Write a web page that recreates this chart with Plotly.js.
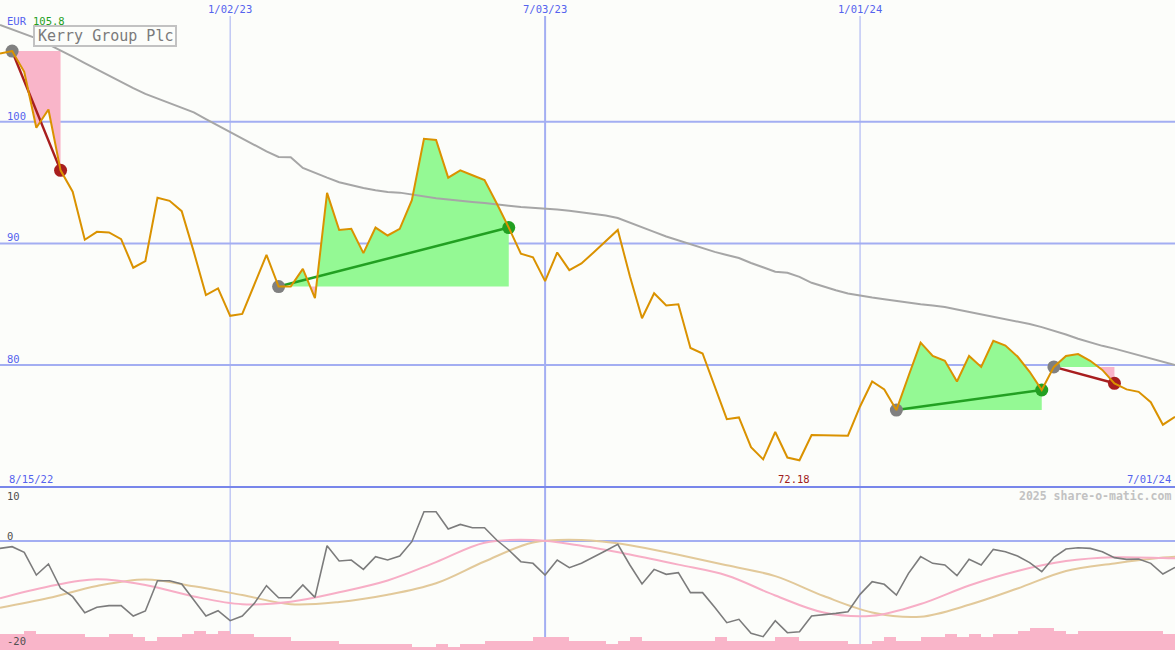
<!DOCTYPE html>
<html><head><meta charset="utf-8">
<script src="https://cdn.plot.ly/plotly-3.0.1.min.js"></script>
<style>html,body{margin:0;padding:0;background:#fcfdfa;}#chart{width:1175px;height:650px;}</style>
</head><body><div id="chart"></div>
<script>
// ---------- DATA (weekly, Mondays from 2022-08-22) ----------
const startDate = '2022-08-22';
const title = 'Kerry Group Plc';
const currency = 'EUR';
const maxLabel = '105.8';
const minLabel = '72.18';
const firstDateLabel = '8/15/22';
const lastDateLabel = '7/01/24';
const watermark = '2025 share-o-matic.com';

const price = [105.6,105.8,104.1,99.5,101.0,96.0,94.25,90.3,90.95,90.9,
  90.35,88.0,88.55,93.75,93.5,92.65,89.3,85.75,86.3,84.05,
  84.2,86.6,89.05,86.45,86.45,87.9,85.5,94.15,91.1,91.2,
  89.2,91.3,90.65,91.2,93.55,98.6,98.5,95.4,96.0,95.6,
  95.2,93.3,91.3,89.15,88.85,86.9,89.25,87.8,88.35,89.25,
  90.2,91.1,87.3,83.85,85.9,84.9,85.0,81.4,80.95,78.2,
  75.55,75.7,73.25,72.25,74.5,72.4,72.18,74.25,74.25,74.25,
  74.2,76.6,78.65,78.0,76.3,79.1,81.85,80.75,80.35,78.65,
  80.75,79.85,82.0,81.6,80.7,79.45,77.95,79.85,80.75,80.9,
  80.35,79.6,78.5,78.0,77.8,76.95,75.1,75.75];

const movingAvg = [107.95,107.59,107.24,106.85,106.35,105.87,105.34,104.82,104.3,103.77,
  103.26,102.76,102.28,101.9,101.53,101.15,100.76,100.22,99.69,99.15,
  98.62,98.09,97.56,97.1,97.07,96.2,95.78,95.4,95.03,94.77,
  94.55,94.37,94.22,94.17,94.0,93.83,93.71,93.6,93.48,93.4,
  93.32,93.23,93.1,92.98,92.93,92.89,92.79,92.68,92.56,92.44,
  92.29,92.09,91.73,91.31,90.95,90.57,90.25,89.94,89.61,89.3,
  89.04,88.8,88.39,88.0,87.67,87.58,87.25,86.76,86.43,86.15,
  85.88,85.7,85.55,85.41,85.26,85.12,85.0,84.89,84.77,84.57,
  84.37,84.18,84.0,83.82,83.62,83.37,83.12,82.84,82.51,82.16,
  81.85,81.58,81.35,81.08,80.81,80.55,80.28,80.01];

const osc = [-1.4,-1.08,-2.16,-6.48,-4.38,-9.0,-10.6,-13.65,-12.63,-12.3,
  -12.3,-14.29,-13.33,-7.56,-7.56,-8.19,-11.24,-14.29,-13.27,-15.18,
  -14.29,-11.87,-8.5,-10.8,-10.8,-8.38,-10.73,-0.9,-3.81,-3.62,
  -5.4,-2.98,-3.62,-2.86,-0.13,5.58,5.58,2.29,3.17,2.54,
  2.54,0.19,-1.71,-3.94,-4.25,-6.48,-3.62,-5.08,-4.25,-2.98,
  -1.84,-0.63,-4.57,-8.19,-5.4,-6.35,-6.03,-9.84,-9.84,-12.63,
  -15.56,-14.92,-17.59,-18.22,-15.18,-17.46,-17.27,-14.29,-14.1,-13.78,
  -13.46,-10.16,-7.75,-8.25,-10.29,-6.16,-2.98,-4.25,-4.57,-6.6,
  -3.49,-4.57,-1.59,-2.03,-2.86,-4.12,-5.84,-3.11,-1.52,-1.27,
  -1.4,-2.03,-3.17,-3.49,-3.43,-4.25,-6.29,-5.02];

// smooth signal lines, read every 4th week (plus the last week)
const oscPinkWeeks = [0,4,8,12,16,20,24,28,32,36,40,44,48,52,56,60,64,68,72,76,80,84,88,92,96,97];
const oscPink = [-10.91,-8.67,-7.3,-8.38,-10.57,-12.04,-11.56,-9.77,-7.52,-4.02,
  -0.33,0.19,-0.9,-2.57,-4.5,-6.57,-10.38,-13.62,-14.25,-12.0,
  -8.46,-5.7,-3.81,-3.09,-3.24,-3.3];
const oscTan = [-12.7,-10.86,-8.57,-7.33,-8.61,-10.29,-12.04,-11.62,-10.25,-8.05,
  -3.9,-0.29,0.19,-0.8,-2.63,-4.63,-6.69,-10.48,-13.6,-14.42,
  -12.15,-9.05,-5.7,-4.27,-3.16,-2.99];

const volume = [5,5,6,5,5,5,5,4,4,5,
  5,4,3,4,4,5,6,5,6,5,
  5,4,4,4,3,3,3,3,2,2,
  2,2,2,2,1,1,2,1,2,2,
  3,3,3,3,4,4,4,3,3,3,
  2,3,4,3,3,3,3,3,3,4,
  3,3,3,3,4,4,3,3,3,3,
  2,2,3,4,3,3,4,4,5,4,
  5,4,5,5,6,7,7,6,5,6,
  6,6,6,6,6,6,5,5];

// signal periods: [start week, end week]
const signalStart = [1,23,74,87];
const signalEnd   = [5,42,86,92];

const gridDates  = ['2023-01-02','2023-07-03','2024-01-01'];
const gridLabels = ['1/02/23','7/03/23','1/01/24'];
const priceTicks = [100,90,80];
const oscTicks   = [10,0,-20];

// ---------- BUILD ----------
const W = 1175, H = 650;
const BG = '#fcfdfa';
const GRID = '#a3aef2';
const MONO = 'DejaVu Sans Mono, Liberation Mono, monospace';
const GREEN = '#22a022', RED = '#a81e1e', GRAY = '#808080';
const FILLG = '#94f994', FILLP = '#f9b5c9';

const WEEK = 7*864e5;
const t0 = Date.parse(startDate + 'T00:00:00Z');
function fmt(ms){const d=new Date(ms);const p=n=>String(n).padStart(2,'0');
  return d.getUTCFullYear()+'-'+p(d.getUTCMonth()+1)+'-'+p(d.getUTCDate())+' '+p(d.getUTCHours())+':'+p(d.getUTCMinutes())+':'+p(d.getUTCSeconds());}
const tms = price.map((_,i)=>t0+i*WEEK);
const dates = tms.map(fmt);
const endDate = fmt(tms[tms.length-1]);

const traces = [];

// volume bars (bottom panel, drawn first)
traces.push({type:'bar', x:dates.slice(0,volume.length), y:volume, yaxis:'y2',
  marker:{color:FILLP, line:{width:0}}, offset:0, width:WEEK, hoverinfo:'skip'});

// signal fills
function fillPolys(a,b){
  const base = price[a];
  const pts=[[tms[a],price[a]]];
  for(let k=a;k<b;k++){
    const p0=price[k]-base, p1=price[k+1]-base;
    if(p0*p1<0){const t=p0/(p0-p1); pts.push([tms[k]+t*(tms[k+1]-tms[k]), base]);}
    pts.push([tms[k+1],price[k+1]]);
  }
  const up={x:[],y:[]}, dn={x:[],y:[]};
  pts.forEach(([x,y])=>{up.x.push(fmt(x));up.y.push(Math.max(y,base));dn.x.push(fmt(x));dn.y.push(Math.min(y,base));});
  [up,dn].forEach(s=>{s.x.push(fmt(tms[b]),fmt(tms[a]));s.y.push(base,base);});
  return [up,dn];
}
signalStart.forEach((a,j)=>{
  const [up,dn]=fillPolys(a,signalEnd[j]);
  traces.push({type:'scatter',mode:'lines',x:up.x,y:up.y,fill:'toself',fillcolor:FILLG,line:{width:0},hoverinfo:'skip'});
  traces.push({type:'scatter',mode:'lines',x:dn.x,y:dn.y,fill:'toself',fillcolor:FILLP,line:{width:0},hoverinfo:'skip'});
});

// moving average
traces.push({type:'scatter',mode:'lines',x:dates,y:movingAvg,line:{color:'#a6a6a6',width:2},hoverinfo:'skip'});

// trend lines with markers
signalStart.forEach((a,j)=>{
  const b=signalEnd[j];
  const col = price[b]>=price[a]?GREEN:RED;
  traces.push({type:'scatter',mode:'lines+markers',x:[dates[a],dates[b]],y:[price[a],price[b]],
    line:{color:col,width:2.5},marker:{size:13,color:[GRAY,col]},hoverinfo:'skip'});
});

// price
traces.push({type:'scatter',mode:'lines',x:dates,y:price,line:{color:'#da9200',width:2},hoverinfo:'skip'});

// oscillator panel
const sigDates = oscPinkWeeks.map(i=>dates[i]);
traces.push({type:'scatter',mode:'lines',x:sigDates,y:oscTan,yaxis:'y3',line:{color:'#e2c99a',width:2,shape:'spline'},hoverinfo:'skip'});
traces.push({type:'scatter',mode:'lines',x:sigDates,y:oscPink,yaxis:'y3',line:{color:'#f7aec6',width:2,shape:'spline'},hoverinfo:'skip'});
traces.push({type:'scatter',mode:'lines',x:dates,y:osc,yaxis:'y3',line:{color:'#7c7c7c',width:1.6},hoverinfo:'skip'});

const split = 163/H; // bottom panel height fraction
const shapes = [];
priceTicks.forEach(v=>shapes.push({type:'line',xref:'paper',x0:0,x1:1,yref:'y',y0:v,y1:v,line:{color:GRID,width:2},layer:'below'}));
gridDates.forEach((d,i)=>shapes.push({type:'line',xref:'x',x0:d,x1:d,yref:'paper',y0:0,y1:1-16/H,line:{color:GRID,width:i===1?2:1},layer:'below'}));
shapes.push({type:'line',xref:'paper',x0:0,x1:1,yref:'y3',y0:0,y1:0,line:{color:GRID,width:2},layer:'below'});
shapes.push({type:'line',xref:'paper',x0:0,x1:1,yref:'paper',y0:split,y1:split,line:{color:'#7886ea',width:2},layer:'above'});
// title box
shapes.push({type:'rect',xref:'paper',yref:'paper',x0:34/W,x1:176/W,y0:1-46/H,y1:1-26/H,line:{color:'#c2c2c2',width:2},fillcolor:BG,layer:'above'});

const px = x=>x/W, py = y=>1-y/H;
const BLUE = '#5563ee';
const ann = [];
function A(o){ann.push(Object.assign({showarrow:false,xref:'paper',yref:'paper',font:{family:MONO,size:10.5,color:BLUE}},o));}
A({x:px(105),y:py(36.5),text:title,xanchor:'center',yanchor:'middle',font:{family:MONO,size:15,color:'#7a7a7a'}});
A({x:px(5),y:py(21),text:currency,xanchor:'left',yanchor:'middle'});
A({x:px(31),y:py(21),text:maxLabel,xanchor:'left',yanchor:'middle',font:{family:MONO,size:10.5,color:'#22a022'}});
gridDates.forEach((d,i)=>A({xref:'x',x:d,y:py(9.5),text:gridLabels[i],xanchor:'center',yanchor:'middle'}));
priceTicks.forEach(v=>A({yref:'y',y:v,yshift:6,x:px(5),text:String(v),xanchor:'left',yanchor:'middle'}));
A({x:px(7),y:py(479),text:firstDateLabel,xanchor:'left',yanchor:'middle'});
A({x:px(1173),y:py(479),text:lastDateLabel,xanchor:'right',yanchor:'middle'});
A({x:px(794),y:py(479),text:minLabel,xanchor:'center',yanchor:'middle',font:{family:MONO,size:10.5,color:'#a01c1c'}});
A({x:px(1173),y:py(496),text:'<b>'+watermark+'</b>',xanchor:'right',yanchor:'middle',font:{family:MONO,size:11.5,color:'#c2c2c2'}});
oscTicks.forEach(v=>A({yref:'y3',y:v,yshift:v===10?-7.5:5.5,x:px(5),text:String(v),xanchor:'left',yanchor:'middle',font:{family:MONO,size:10.5,color:'#505050'}}));

const hidden = {showgrid:false,zeroline:false,showticklabels:false,showline:false,ticks:'',fixedrange:true};
const layout = {
  width:W,height:H,margin:{l:0,r:0,t:0,b:0,pad:0},
  paper_bgcolor:BG,plot_bgcolor:BG,showlegend:false,bargap:0,
  xaxis:Object.assign({type:'date',range:[startDate,endDate]},hidden),
  yaxis:Object.assign({domain:[split,1],range:[69.98,110.0]},hidden),
  yaxis2:Object.assign({domain:[0,split],range:[0,51.7]},hidden),
  yaxis3:Object.assign({overlaying:'y2',range:[-20.76,10.29]},hidden),
  shapes:shapes, annotations:ann
};
Plotly.newPlot('chart',traces,layout,{displayModeBar:false,staticPlot:true});
</script></body></html>
